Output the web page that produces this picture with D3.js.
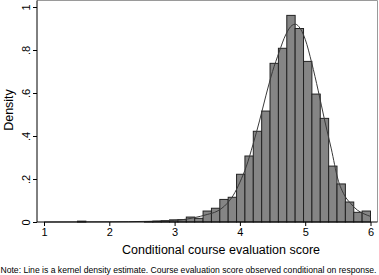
<!DOCTYPE html>
<html lang="en">
<head>
<meta charset="UTF-8">
<title>Conditional course evaluation score</title>
<script src="https://d3js.org/d3.v7.min.js"></script>
<style>
    body { margin: 0; background: #fff; }
    svg { display: block; font-family: "Liberation Sans", Arial, sans-serif; }
</style>
</head>
<body>
<svg width="379" height="275"></svg>
<script>
// histogram: 39 bins from 1 to 6
const binStart = 1;
const binEnd = 6;
const binDensity = [
    0, 0, 0, 0, 0.004, 0, 0, 0, 0, 0,
    0, 0, 0.002, 0.004, 0.006, 0.010, 0.011, 0.023, 0.017, 0.051,
    0.064, 0.105, 0.115, 0.222, 0.307, 0.422, 0.516, 0.738, 0.808, 0.961,
    0.900, 0.747, 0.595, 0.482, 0.260, 0.177, 0.093, 0.045, 0.051
];

// kernel density line
const kdeX = [1.0, 2.0, 2.6, 2.9, 3.1, 3.3, 3.5, 3.65, 3.8, 3.9, 4.0, 4.1, 4.2, 4.3, 4.4, 4.5,
              4.6, 4.7, 4.8, 4.85, 4.9, 5.0, 5.1, 5.2, 5.3, 5.4, 5.5, 5.6, 5.7, 5.8, 5.9, 6.0];
const kdeY = [0, 0.001, 0.003, 0.006, 0.010, 0.020, 0.035, 0.050, 0.085, 0.125, 0.185, 0.260, 0.360, 0.470, 0.590, 0.700,
              0.790, 0.870, 0.915, 0.920, 0.910, 0.850, 0.740, 0.610, 0.470, 0.340, 0.200, 0.125, 0.085, 0.055, 0.038, 0.026];

const xTicks = [1, 2, 3, 4, 5, 6];
const yTicks = [0, 0.2, 0.4, 0.6, 0.8, 1];
const yTickLabels = ["0", ".2", ".4", ".6", ".8", "1"];

const svg = d3.select("svg");

const x = d3.scaleLinear().domain([1, 6]).range([44, 370.5]);
const y = d3.scaleLinear().domain([0, 1]).range([222, 7]);

const plotLeft = 37, plotRight = 377.5, plotTop = 0.5, plotBottom = 222;

// light frame on top and right
svg.append("path")
    .attr("d", `M${plotLeft},${plotTop}H${plotRight}V${plotBottom}`)
    .attr("fill", "none")
    .attr("stroke", "#9a9a9a")
    .attr("stroke-width", 1);

// bars
const binW = (binEnd - binStart) / binDensity.length;
const bins = binDensity
    .map((d, i) => ({ x0: binStart + i * binW, x1: binStart + (i + 1) * binW, d: d }))
    .filter(b => b.d > 0);
svg.append("g").selectAll("rect")
    .data(bins)
    .join("rect")
    .attr("x", b => x(b.x0))
    .attr("y", b => y(b.d))
    .attr("width", b => x(b.x1) - x(b.x0))
    .attr("height", b => y(0) - y(b.d))
    .attr("fill", "#858585")
    .attr("stroke", "#222")
    .attr("stroke-width", 1);

// density curve
const line = d3.line()
    .x(d => x(d[0]))
    .y(d => y(d[1]))
    .curve(d3.curveMonotoneX);
svg.append("path")
    .datum(kdeX.map((v, i) => [v, kdeY[i]]))
    .attr("d", line)
    .attr("fill", "none")
    .attr("stroke", "#3a3a3a")
    .attr("stroke-width", 1);

// y axis
const yAxis = svg.append("g")
    .attr("transform", `translate(${plotLeft},0)`)
    .call(d3.axisLeft(y).tickValues(yTicks).tickSize(4).tickFormat((d, i) => yTickLabels[i]));
yAxis.select(".domain").attr("d", `M0,${plotTop}V${plotBottom}`).attr("stroke", "#000");
yAxis.selectAll(".tick text")
    .attr("transform", "rotate(-90)")
    .attr("x", 0)
    .attr("y", -7)
    .attr("dy", 0)
    .attr("text-anchor", "middle")
    .attr("font-size", 11)
    .attr("font-family", "Liberation Sans, Arial, sans-serif");

// x axis
const xAxis = svg.append("g")
    .attr("transform", `translate(0,${plotBottom})`)
    .call(d3.axisBottom(x).tickValues(xTicks).tickSize(4).tickFormat(d3.format("d")));
xAxis.select(".domain").attr("d", `M${plotLeft},0H${plotRight}`).attr("stroke", "#000");
xAxis.selectAll(".tick text")
    .attr("y", 6)
    .attr("font-size", 11)
    .attr("font-family", "Liberation Sans, Arial, sans-serif");

// titles
svg.append("text")
    .attr("transform", "translate(13,110) rotate(-90)")
    .attr("text-anchor", "middle")
    .attr("font-size", 12.5)
    .text("Density");

svg.append("text")
    .attr("x", 221)
    .attr("y", 254)
    .attr("text-anchor", "middle")
    .attr("font-size", 12.5)
    .text("Conditional course evaluation score");

svg.append("text")
    .attr("x", 0.5)
    .attr("y", 273)
    .attr("font-size", 8.6)
    .attr("textLength", 376)
    .attr("lengthAdjust", "spacingAndGlyphs")
    .text("Note: Line is a kernel density estimate. Course evaluation score observed conditional on response.");
</script>
</body>
</html>
